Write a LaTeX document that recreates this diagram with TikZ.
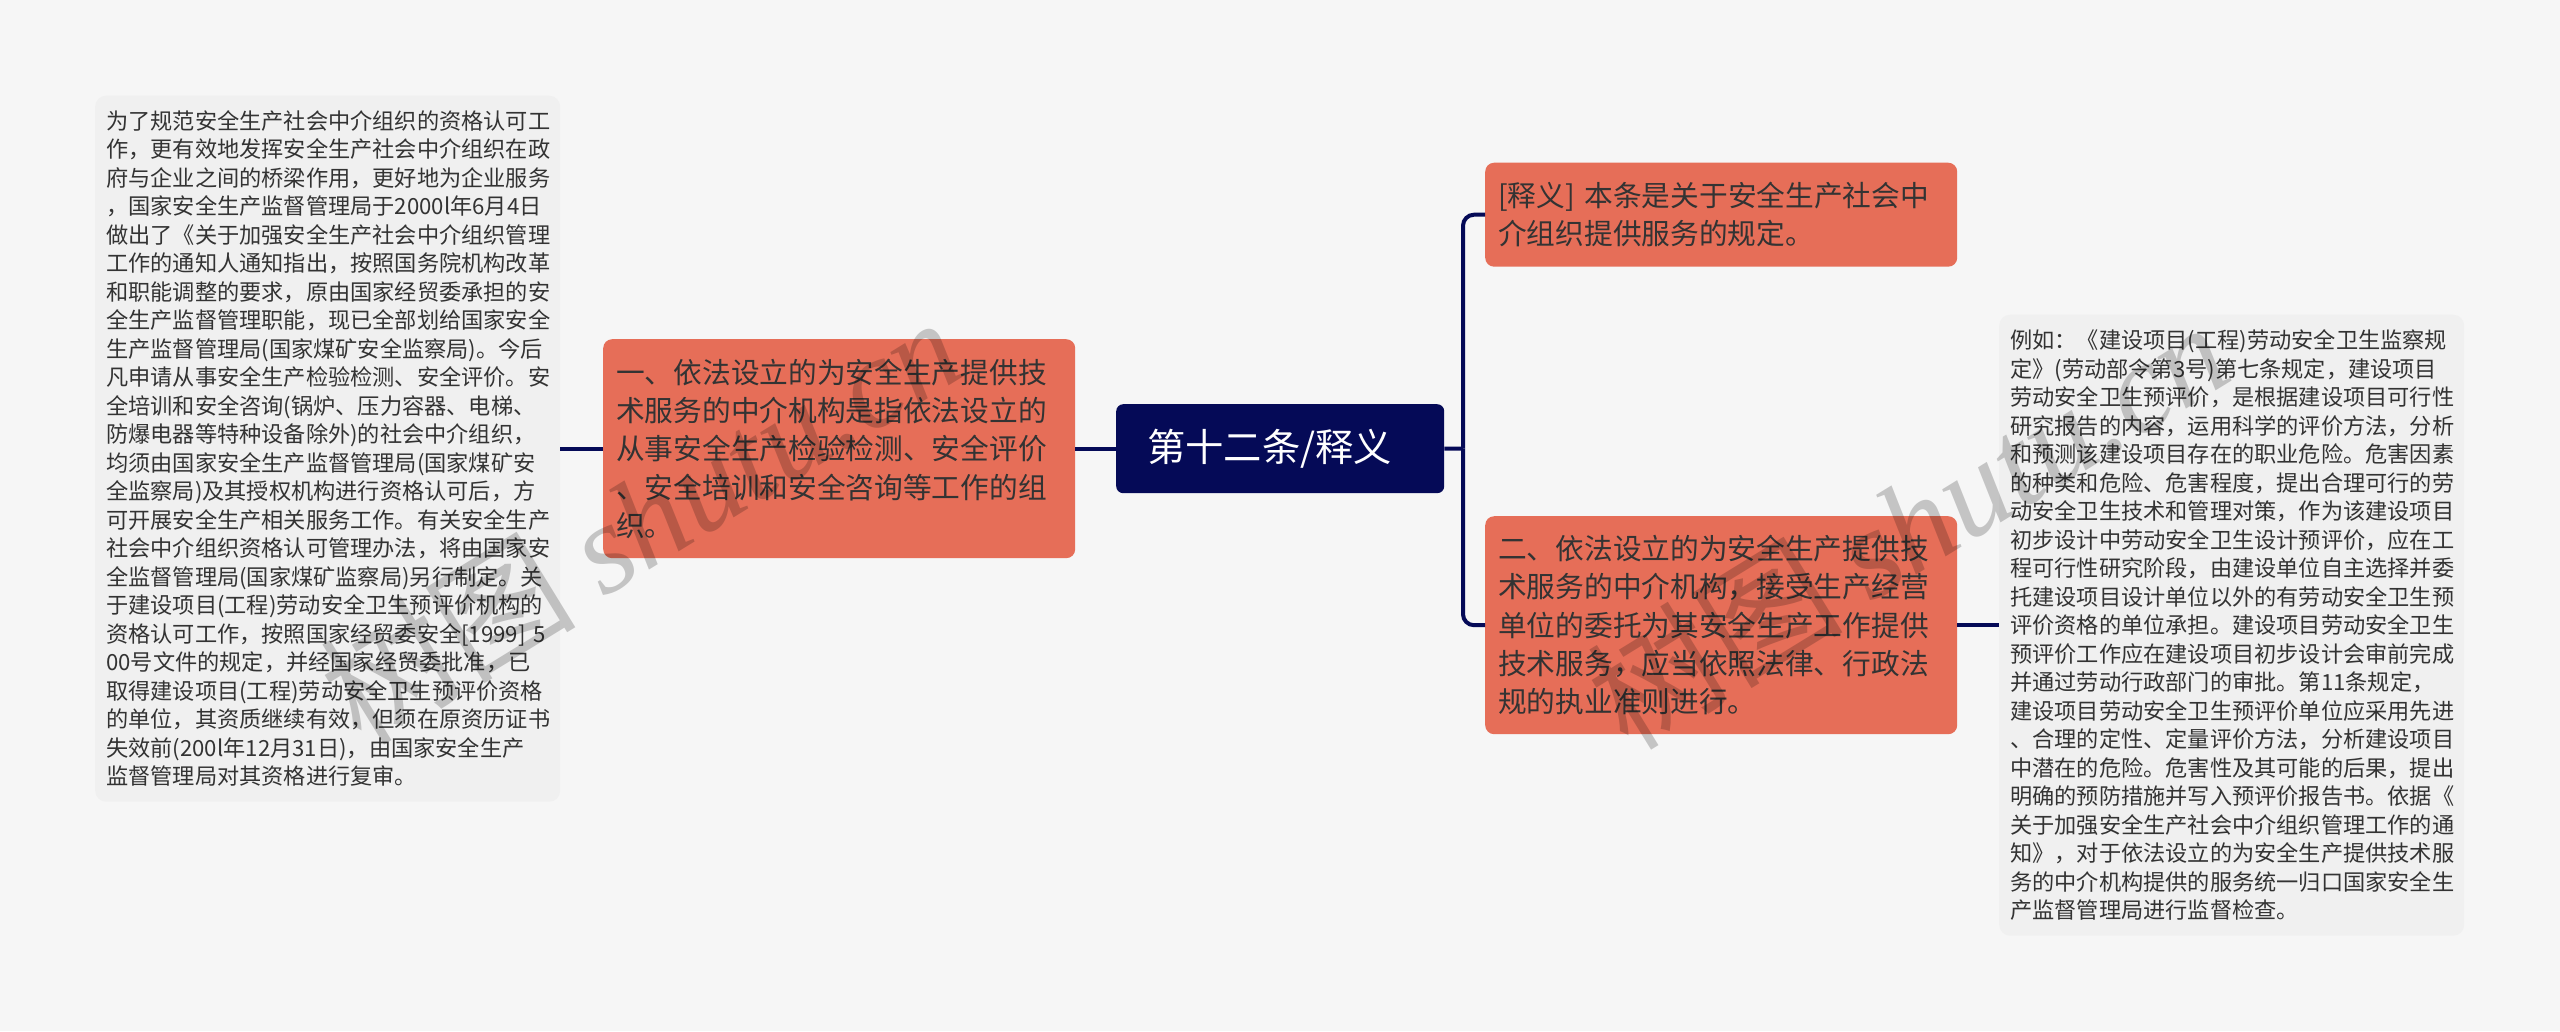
\documentclass[tikz,border=0pt]{standalone}
\usepackage{fontspec}
\setmainfont{Noto Sans CJK SC}
\newfontfamily\markfont{Liberation Serif}
\usetikzlibrary{calc}
\definecolor{pagebg}{HTML}{F6F6F6}
\definecolor{notebg}{HTML}{F0F0F0}
\definecolor{branchbg}{HTML}{E66E58}
\definecolor{navy}{HTML}{050A57}
\tikzset{
  treenode/.style = {align=left, anchor=north west, inner ysep=0pt, text=black!80},
  root_n/.style = {treenode, fill=navy, text=white, rounded corners=7pt, inner xsep=31pt, text width=266pt, minimum height=89pt, font=\fontsize{38.3}{46}\selectfont},
  branch_r/.style = {treenode, fill=branchbg, rounded corners=9pt, inner xsep=13pt, text width=446pt, font=\fontsize{28.7}{38.3}\selectfont},
  note_g/.style = {treenode, fill=notebg, rounded corners=11pt, inner xsep=11pt, text width=443pt, font=\fontsize{22.2}{28.5}\selectfont},
  link/.style = {draw=navy, line width=4pt, rounded corners=11pt},
  mark_w/.style = {text=black, text opacity=.2, rotate=31.6, font=\fontsize{128}{128}\selectfont}
}
\begin{document}
\begin{tikzpicture}[x=1pt,y=-1pt]
\fill [pagebg] (0,0) rectangle (2560,1031);
\node [root_n] (root) at (1116,404) {第十二条/释义};
\node [branch_r, minimum height=219pt] (one) at (603,339) {一、依法设立的为安全生产提供技\\术服务的中介机构是指依法设立的\\从事安全生产检验检测、安全评价\\、安全培训和安全咨询等工作的组\\织。};
\node [branch_r, minimum height=104pt] (rel) at (1485,162.5) {[释义] 本条是关于安全生产社会中\\介组织提供服务的规定。};
\node [branch_r, minimum height=218pt] (two) at (1485,516) {二、依法设立的为安全生产提供技\\术服务的中介机构，接受生产经营\\单位的委托为其安全生产工作提供\\技术服务，应当依照法律、行政法\\规的执业准则进行。};
\node [note_g, minimum height=706pt] (note_l) at (95,95.5) {为了规范安全生产社会中介组织的资格认可工\\作，更有效地发挥安全生产社会中介组织在政\\府与企业之间的桥梁作用，更好地为企业服务\\，国家安全生产监督管理局于2000l年6月4日\\做出了《关于加强安全生产社会中介组织管理\\工作的通知人通知指出，按照国务院机构改革\\和职能调整的要求，原由国家经贸委承担的安\\全生产监督管理职能，现已全部划给国家安全\\生产监督管理局(国家煤矿安全监察局)。今后\\凡申请从事安全生产检验检测、安全评价。安\\全培训和安全咨询(锅炉、压力容器、电梯、\\防爆电器等特种设备除外)的社会中介组织，\\均须由国家安全生产监督管理局(国家煤矿安\\全监察局)及其授权机构进行资格认可后，方\\可开展安全生产相关服务工作。有关安全生产\\社会中介组织资格认可管理办法，将由国家安\\全监督管理局(国家煤矿监察局)另行制定。关\\于建设项目(工程)劳动安全卫生预评价机构的\\资格认可工作，按照国家经贸委安全[1999] 5\\00号文件的规定，并经国家经贸委批准，已\\取得建设项目(工程)劳动安全卫生预评价资格\\的单位，其资质继续有效，但须在原资历证书\\失效前(200l年12月31日)，由国家安全生产\\监督管理局对其资格进行复审。};
\node [note_g, minimum height=621pt] (note_r) at (1999,314.5) {例如：《建设项目(工程)劳动安全卫生监察规\\定》(劳动部令第3号)第七条规定，建设项目\\劳动安全卫生预评价，是根据建设项目可行性\\研究报告的内容，运用科学的评价方法，分析\\和预测该建设项目存在的职业危险。危害因素\\的种类和危险、危害程度，提出合理可行的劳\\动安全卫生技术和管理对策，作为该建设项目\\初步设计中劳动安全卫生设计预评价，应在工\\程可行性研究阶段，由建设单位自主选择并委\\托建设项目设计单位以外的有劳动安全卫生预\\评价资格的单位承担。建设项目劳动安全卫生\\预评价工作应在建设项目初步设计会审前完成\\并通过劳动行政部门的审批。第11条规定，\\建设项目劳动安全卫生预评价单位应采用先进\\、合理的定性、定量评价方法，分析建设项目\\中潜在的危险。危害性及其可能的后果，提出\\明确的预防措施并写入预评价报告书。依据《\\关于加强安全生产社会中介组织管理工作的通\\知》，对于依法设立的为安全生产提供技术服\\务的中介机构提供的服务统一归口国家安全生\\产监督管理局进行监督检查。};
\coordinate (fork) at (1463,448.5);
\draw [link] (root.west) -- (one.east);
\draw [link] (one.west) -- (note_l.east);
\draw [link] (root.east) -- (fork);
\draw [link] (rel.west) -| (fork);
\draw [link] (two.west) -| (fork);
\draw [link] (two.east) -- (note_r.west);
\node [mark_w] (mark_a) at (640,519) {树图 {\markfont\itshape shutu.cn}};
\node [mark_w] (mark_b) at (1907,524) {树图 {\markfont\itshape shutu.cn}};
\end{tikzpicture}
\end{document}
